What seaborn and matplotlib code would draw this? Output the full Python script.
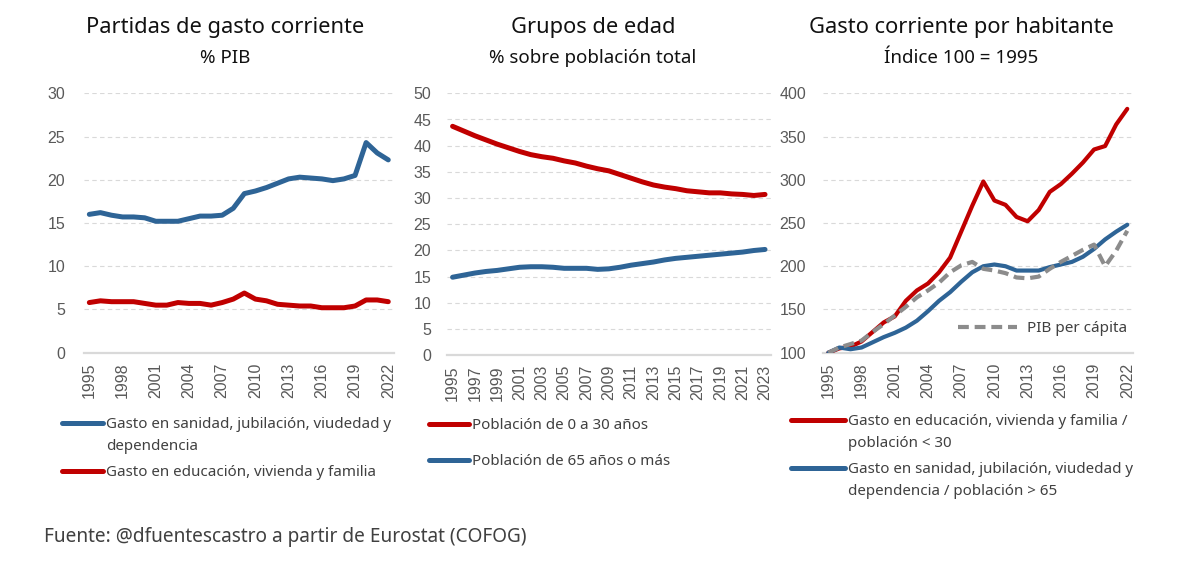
import numpy as np
import pandas as pd
import seaborn as sns
import matplotlib.pyplot as plt
from matplotlib.lines import Line2D

# ---------------- data ----------------
years_a = list(range(1995, 2023))  # panels 1 and 3
years_b = list(range(1995, 2024))  # panel 2

gasto_sanidad_pib = [16.0, 16.2, 15.9, 15.7, 15.7, 15.6, 15.2, 15.2, 15.2, 15.5,
                     15.8, 15.8, 15.9, 16.7, 18.4, 18.7, 19.1, 19.6, 20.1, 20.3,
                     20.2, 20.1, 19.9, 20.1, 20.5, 24.3, 23.1, 22.3]
gasto_educacion_pib = [5.8, 6.0, 5.9, 5.9, 5.9, 5.7, 5.5, 5.5, 5.8, 5.7,
                       5.7, 5.5, 5.8, 6.2, 6.9, 6.2, 6.0, 5.6, 5.5, 5.4,
                       5.4, 5.2, 5.2, 5.2, 5.4, 6.1, 6.1, 5.9]

pob_0_30 = [43.7, 42.8, 41.9, 41.1, 40.3, 39.6, 38.9, 38.3, 37.9, 37.6,
            37.1, 36.7, 36.1, 35.6, 35.2, 34.5, 33.8, 33.1, 32.5, 32.1,
            31.8, 31.4, 31.2, 31.0, 31.0, 30.8, 30.7, 30.5, 30.7]
pob_65 = [14.9, 15.3, 15.7, 16.0, 16.2, 16.5, 16.8, 16.9, 16.9, 16.8,
          16.6, 16.6, 16.6, 16.4, 16.5, 16.8, 17.2, 17.5, 17.8, 18.2,
          18.5, 18.7, 18.9, 19.1, 19.3, 19.5, 19.7, 20.0, 20.2]

idx_educacion = [100, 105, 107, 113, 124, 135, 142, 160, 172, 180,
                 193, 210, 240, 270, 298, 276, 271, 257, 252, 265,
                 286, 295, 307, 320, 335, 339, 364, 382]
idx_sanidad = [100, 106, 104, 106, 112, 118, 123, 129, 137, 148,
               160, 170, 182, 193, 200, 202, 200, 195, 195, 195,
               199, 202, 205, 211, 220, 231, 240, 248]
idx_pib = [100, 106, 110, 114, 124, 133, 143, 153, 164, 172,
           181, 193, 201, 205, 197, 195, 192, 187, 186, 188,
           197, 205, 212, 219, 225, 200, 218, 241]

titles = ["Partidas de gasto corriente", "Grupos de edad", "Gasto corriente por habitante"]
subtitles = ["% PIB", "% sobre población total", "Índice 100 = 1995"]
leg1 = ["Gasto en sanidad, jubilación, viudedad y\ndependencia",
        "Gasto en educación, vivienda y familia"]
leg2 = ["Población de 0 a 30 años", "Población de 65 años o más"]
leg3 = ["Gasto en educación, vivienda y familia /\npoblación < 30",
        "Gasto en sanidad, jubilación, viudedad y\ndependencia / población > 65"]
pib_label = "PIB per cápita"
source = "Fuente: @dfuentescastro a partir de Eurostat (COFOG)"

# ---------------- style ----------------
BLUE = "#2E6496"
RED = "#C00000"
GRAY = "#8C8C8C"
TICK = "#595959"
TXT = "#404040"
GRID = "#D9D9D9"

sns.set_theme(style="white")
plt.rcParams['font.family'] = ['Liberation Sans', 'DejaVu Sans']
TFONT = ['Noto Sans', 'DejaVu Sans']

W, H = 1204, 571
fig = plt.figure(figsize=(W / 100, H / 100), dpi=100)


def fx(px):
    return px / W


def fy(py):
    return 1 - py / H


ax1 = fig.add_axes([fx(83.8), fy(352.7), fx(310), 259.4 / H])
ax2 = fig.add_axes([fx(447), fy(355.3), fx(323.6), 262 / H])
ax3 = fig.add_axes([fx(822.8), fy(352.7), fx(310), 259.4 / H])

df1 = pd.DataFrame({"year": years_a, "san": gasto_sanidad_pib, "edu": gasto_educacion_pib})
df2 = pd.DataFrame({"year": years_b, "p30": pob_0_30, "p65": pob_65})
df3 = pd.DataFrame({"year": years_a, "edu": idx_educacion, "san": idx_sanidad, "pib": idx_pib})

lw = 3.6
sns.lineplot(data=df1, x="year", y="san", color=BLUE, lw=lw, ax=ax1, solid_capstyle='round')
sns.lineplot(data=df1, x="year", y="edu", color=RED, lw=lw, ax=ax1, solid_capstyle='round')

sns.lineplot(data=df2, x="year", y="p30", color=RED, lw=lw, ax=ax2, solid_capstyle='round')
sns.lineplot(data=df2, x="year", y="p65", color=BLUE, lw=lw, ax=ax2, solid_capstyle='round')

lw3 = 3.0
sns.lineplot(data=df3, x="year", y="pib", color=GRAY, lw=lw3, ax=ax3, zorder=3)
ax3.lines[-1].set_linestyle((0, (2.6, 1.4)))
sns.lineplot(data=df3, x="year", y="edu", color=RED, lw=lw3, ax=ax3, solid_capstyle='round', zorder=2)
sns.lineplot(data=df3, x="year", y="san", color=BLUE, lw=lw3, ax=ax3, solid_capstyle='round', zorder=2)

configs = [
    (ax1, (1994.5, 2022.5), (0, 30), np.arange(0, 31, 5), list(range(1995, 2023, 3)), 13.5),
    (ax2, (1994.5, 2023.5), (0, 50), np.arange(0, 51, 5), list(range(1995, 2024, 2)), 11.5),
    (ax3, (1994.5, 2022.5), (100, 400), np.arange(100, 401, 50), list(range(1995, 2023, 3)), 12.0),
]
for ax, xl, yl, yt, xt, ypad in configs:
    ax.set_xlim(*xl)
    ax.set_ylim(*yl)
    ax.set_yticks(yt)
    ax.set_xticks(xt)
    ax.set_xticklabels([str(v) for v in xt], rotation=90)
    ax.set_xlabel("")
    ax.set_ylabel("")
    ax.set_facecolor("white")
    for s in ["top", "right", "left"]:
        ax.spines[s].set_visible(False)
    ax.spines["bottom"].set_color(GRID)
    ax.spines["bottom"].set_linewidth(1.6)
    ax.spines["bottom"].set_zorder(0.5)
    ax.yaxis.grid(True, color=GRID, linestyle=(0, (4, 3)), linewidth=0.8)
    ax.xaxis.grid(False)
    ax.set_axisbelow(True)
    ax.tick_params(axis="both", length=0, colors=TICK, labelsize=11.5)
    ax.tick_params(axis="y", pad=ypad)
    ax.tick_params(axis="x", pad=7)
    if ax.get_legend():
        ax.get_legend().remove()

# titles
centers = [225, 593, 961]
for c, t, s in zip(centers, titles, subtitles):
    fig.text(fx(c), fy(33), t, ha="center", va="baseline", fontsize=15.7,
             color="#111111", family=TFONT)
    fig.text(fx(c), fy(63), s, ha="center", va="baseline", fontsize=13.5,
             color="#111111", family=TFONT)


# legends (manual, handle aligned with first text line)
def legend_entry(x0, x1, y, color, label):
    fig.add_artist(Line2D([fx(x0), fx(x1)], [fy(y), fy(y)], transform=fig.transFigure,
                          color=color, lw=3.6, solid_capstyle='round'))
    fig.text(fx(x1 + 3), fy(y - 6), label, ha="left", va="top", fontsize=10.9,
             color=TXT, family=TFONT, linespacing=1.68)


legend_entry(62, 103, 423, BLUE, leg1[0])
legend_entry(62, 103, 471, RED, leg1[1])
legend_entry(429, 469, 424, RED, leg2[0])
legend_entry(429, 469, 460, BLUE, leg2[1])
legend_entry(791, 845, 420, RED, leg3[0])
legend_entry(791, 845, 468, BLUE, leg3[1])

# inline legend for PIB per capita
pib_handle = Line2D([], [], color=GRAY, lw=lw3, linestyle=(0, (2.6, 1.4)))
ax3.legend([pib_handle], [pib_label], loc="lower right", bbox_to_anchor=(1.0, 0.04),
           frameon=False, handlelength=3.9, handletextpad=0.6, borderaxespad=0.0,
           prop={"family": TFONT, "size": 11}, labelcolor=TXT)

fig.text(fx(44), fy(537), source, ha="left", va="center", fontsize=13.7,
         color=TXT, family=TFONT)

fig.savefig("out.png", dpi=100, facecolor="white")
